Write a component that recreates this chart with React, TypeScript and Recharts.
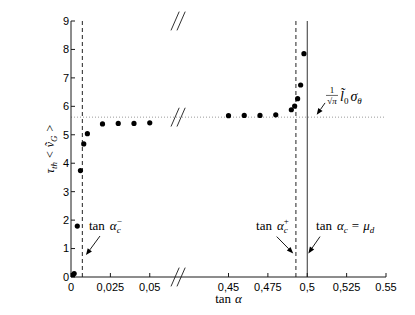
import React from "react";
import { ScatterChart, Scatter, XAxis, YAxis, ReferenceLine, ReferenceDot } from "recharts";

// measured points: tan(alpha) vs tau_th <v_G>
const tanAlpha = [
  0, 0.001, 0.002, 0.004, 0.006, 0.0081, 0.0104, 0.02, 0.03, 0.04, 0.05,
  0.45, 0.46, 0.47, 0.48, 0.4899, 0.492, 0.4939, 0.4958, 0.4979,
];
const tauV = [
  0.03, 0.06, 0.12, 1.79, 3.74, 4.68, 5.04, 5.38, 5.4, 5.4, 5.42,
  5.67, 5.68, 5.68, 5.7, 5.88, 6.01, 6.27, 6.75, 7.85,
];

const tickValues = [0, 0.025, 0.05, 0.45, 0.475, 0.5, 0.525, 0.55];
const tickLabels = ["0", "0,025", "0,05", "0,45", "0,475", "0,5", "0,525", "0.55"];
const yTicks = [0, 1, 2, 3, 4, 5, 6, 7, 8, 9];

const tanAlphaCMinus = 0.0072;
const tanAlphaCPlus = 0.4928;
const muD = 0.5;
const plateau = 5.62;

// broken x axis: the stretch 0.0675..0.4175 is cut out
const GAP = 0.35;
const toPlot = (x: number) => (x > 0.25 ? x - GAP : x);
const BREAK_X = 0.068;

const points = tanAlpha.map((x, i) => ({ x: toPlot(x), y: tauV[i] }));
const plotTicks = tickValues.map(toPlot);
const fmtTick = (v: number) => {
  const i = plotTicks.findIndex((t) => Math.abs(t - v) < 1e-9);
  return i >= 0 ? tickLabels[i] : "";
};

const SERIF = "'Liberation Serif', 'Times New Roman', serif";
const SANS = "'Liberation Sans', Arial, Helvetica, sans-serif";
const INK = "#1a1a1a";

const NoTick = () => <g />;

const Dot = (p: any) => <circle cx={p.cx} cy={p.cy} r={2.6} fill="#000" />;

const Arrow = (p: any) => {
  const { x1, y1, x2, y2 } = p;
  const a = Math.atan2(y2 - y1, x2 - x1);
  const L = 6.5;
  const W = 2.6;
  const bx = x2 - L * Math.cos(a);
  const by = y2 - L * Math.sin(a);
  const pts = `${x2},${y2} ${bx - W * Math.sin(a)},${by + W * Math.cos(a)} ${bx + W * Math.sin(a)},${by - W * Math.cos(a)}`;
  return (
    <g>
      <line x1={x1} y1={y1} x2={bx} y2={by} stroke="#000" strokeWidth={0.9} />
      <polygon points={pts} fill="#000" />
    </g>
  );
};

const Slash = (p: any) => (
  <line x1={p.x1} y1={p.y1} x2={p.x2} y2={p.y2} stroke={INK} strokeWidth={0.9} />
);

const tanAlphaC = (sup: string) => (p: any) => (
  <text x={p.cx} y={p.cy} fontFamily={SERIF} fontSize={13} fill="#000">
    <tspan>tan</tspan>
    <tspan dx={5} fontStyle="italic">α</tspan>
    <tspan fontSize={9} dy={3} fontStyle="italic">c</tspan>
    <tspan fontSize={9} dx={-4} dy={-9}>{sup}</tspan>
  </text>
);

const TanEqMu = (p: any) => (
  <text x={p.cx} y={p.cy} fontFamily={SERIF} fontSize={13} fill="#000">
    <tspan>tan</tspan>
    <tspan dx={5} fontStyle="italic">α</tspan>
    <tspan fontSize={9} dy={3} fontStyle="italic">c</tspan>
    <tspan dx={4} dy={-3}>=</tspan>
    <tspan dx={4} fontStyle="italic">μ</tspan>
    <tspan fontSize={9} dy={3} fontStyle="italic">d</tspan>
  </text>
);

const Fraction = (p: any) => {
  const { cx, cy } = p;
  return (
    <g fontFamily={SERIF} fill="#000">
      <text x={cx + 6} y={cy - 8} fontSize={9} textAnchor="middle">1</text>
      <line x1={cx} y1={cy - 5.5} x2={cx + 12} y2={cy - 5.5} stroke="#000" strokeWidth={0.6} />
      <text x={cx + 6} y={cy + 3} fontSize={9} textAnchor="middle">
        √<tspan fontStyle="italic">π</tspan>
      </text>
      <text x={cx + 14} y={cy} fontSize={14}>
        <tspan fontStyle="italic">{"l\u0303"}</tspan>
        <tspan fontSize={9} dy={3}>0</tspan>
        <tspan dx={2} dy={-3} fontStyle="italic">σ</tspan>
        <tspan fontSize={9} dy={3} fontStyle="italic">θ</tspan>
      </text>
    </g>
  );
};

const XLabel = (p: any) => {
  const vb = p.viewBox || { x: 71, y: 277, width: 315 };
  return (
    <text x={vb.x + vb.width / 2} y={vb.y + 26} fontFamily={SERIF} fontSize={13} textAnchor="middle" fill="#000">
      <tspan>tan</tspan>
      <tspan dx={4} fontStyle="italic">α</tspan>
    </text>
  );
};

const YLabel = (p: any) => {
  const vb = p.viewBox || { x: 0, y: 21, width: 71, height: 256 };
  const x = vb.x + 54;
  const y = vb.y + vb.height / 2;
  return (
    <text x={x} y={y} transform={`rotate(-90, ${x}, ${y})`} fontFamily={SERIF} fontSize={12} textAnchor="middle" fill="#000">
      <tspan fontStyle="italic">τ</tspan>
      <tspan fontSize={9} dy={3} fontStyle="italic">th</tspan>
      <tspan dx={4} dy={-3}>&lt;</tspan>
      <tspan dx={4} fontStyle="italic">{"v\u0303"}</tspan>
      <tspan fontSize={9} dy={3} fontStyle="italic">G</tspan>
      <tspan dx={4} dy={-3}>&gt;</tspan>
    </text>
  );
};

const slashes = [0, plateau, 9].flatMap((y) =>
  [-0.0019, 0.0019].map((d) => [
    { x: BREAK_X + d - 0.0026, y: y - 0.33 },
    { x: BREAK_X + d + 0.0026, y: y + 0.33 },
  ])
);

const arrows = [
  [{ x: 0.0184, y: 1.44 }, { x: 0.0095, y: 0.77 }],
  [{ x: toPlot(0.4806), y: 1.42 }, { x: toPlot(0.4911), y: 0.83 }],
  [{ x: toPlot(0.5081), y: 1.42 }, { x: toPlot(0.5007), y: 0.83 }],
  [{ x: toPlot(0.5113), y: 6.12 }, { x: toPlot(0.506), y: 5.7 }],
];

const axisStroke = { stroke: INK, strokeWidth: 1 };

export default function App() {
  return (
    <div style={{ position: "absolute", left: 0, top: 0, background: "#fff" }}>
      <ScatterChart width={415} height={315} margin={{ top: 21, right: 29, bottom: 0, left: 0 }}>
        <XAxis
          type="number"
          dataKey="x"
          domain={[0, 0.2]}
          allowDataOverflow
          ticks={plotTicks}
          interval={0}
          tickFormatter={fmtTick}
          height={38}
          tickSize={-4}
          tickMargin={10}
          axisLine={axisStroke}
          tickLine={axisStroke}
          tick={{ fill: "#000", fontSize: 11, fontFamily: SANS }}
          label={{ content: XLabel }}
        />
        <XAxis
          xAxisId="top"
          orientation="top"
          type="number"
          domain={[0, 0.2]}
          allowDataOverflow
          ticks={plotTicks}
          interval={0}
          height={0}
          tickSize={-4}
          axisLine={axisStroke}
          tickLine={axisStroke}
          tick={NoTick}
        />
        <YAxis
          type="number"
          dataKey="y"
          domain={[0, 9]}
          allowDataOverflow
          ticks={yTicks}
          interval={0}
          width={71}
          tickSize={-4}
          tickMargin={6}
          axisLine={axisStroke}
          tickLine={axisStroke}
          tick={{ fill: "#000", fontSize: 11, fontFamily: SANS }}
          label={{ content: YLabel }}
        />
        <YAxis
          yAxisId="right"
          orientation="right"
          type="number"
          domain={[0, 9]}
          allowDataOverflow
          ticks={yTicks}
          interval={0}
          width={0}
          tickSize={-4}
          axisLine={axisStroke}
          tickLine={axisStroke}
          tick={NoTick}
        />

        <ReferenceLine y={plateau} stroke="#9a9a9a" strokeDasharray="1 2" strokeWidth={1} />
        <ReferenceLine x={toPlot(tanAlphaCMinus)} stroke="#222" strokeDasharray="4 3" strokeWidth={1} />
        <ReferenceLine x={toPlot(tanAlphaCPlus)} stroke="#222" strokeDasharray="4 3" strokeWidth={1} />
        <ReferenceLine x={toPlot(muD)} stroke="#333" strokeWidth={1} />

        {slashes.map((seg, i) => (
          <ReferenceLine key={`s${i}`} segment={seg} ifOverflow="visible" shape={Slash} />
        ))}
        {arrows.map((seg, i) => (
          <ReferenceLine key={`a${i}`} segment={seg} ifOverflow="visible" shape={Arrow} />
        ))}

        <ReferenceDot x={0.0114} y={1.65} r={0} ifOverflow="visible" shape={tanAlphaC("−")} />
        <ReferenceDot x={toPlot(0.4675)} y={1.65} r={0} ifOverflow="visible" shape={tanAlphaC("+")} />
        <ReferenceDot x={toPlot(0.5056)} y={1.65} r={0} ifOverflow="visible" shape={TanEqMu} />
        <ReferenceDot x={toPlot(0.5119)} y={6.19} r={0} ifOverflow="visible" shape={Fraction} />

        <Scatter data={points} fill="#000" shape={Dot} isAnimationActive={false} />
      </ScatterChart>
    </div>
  );
}
